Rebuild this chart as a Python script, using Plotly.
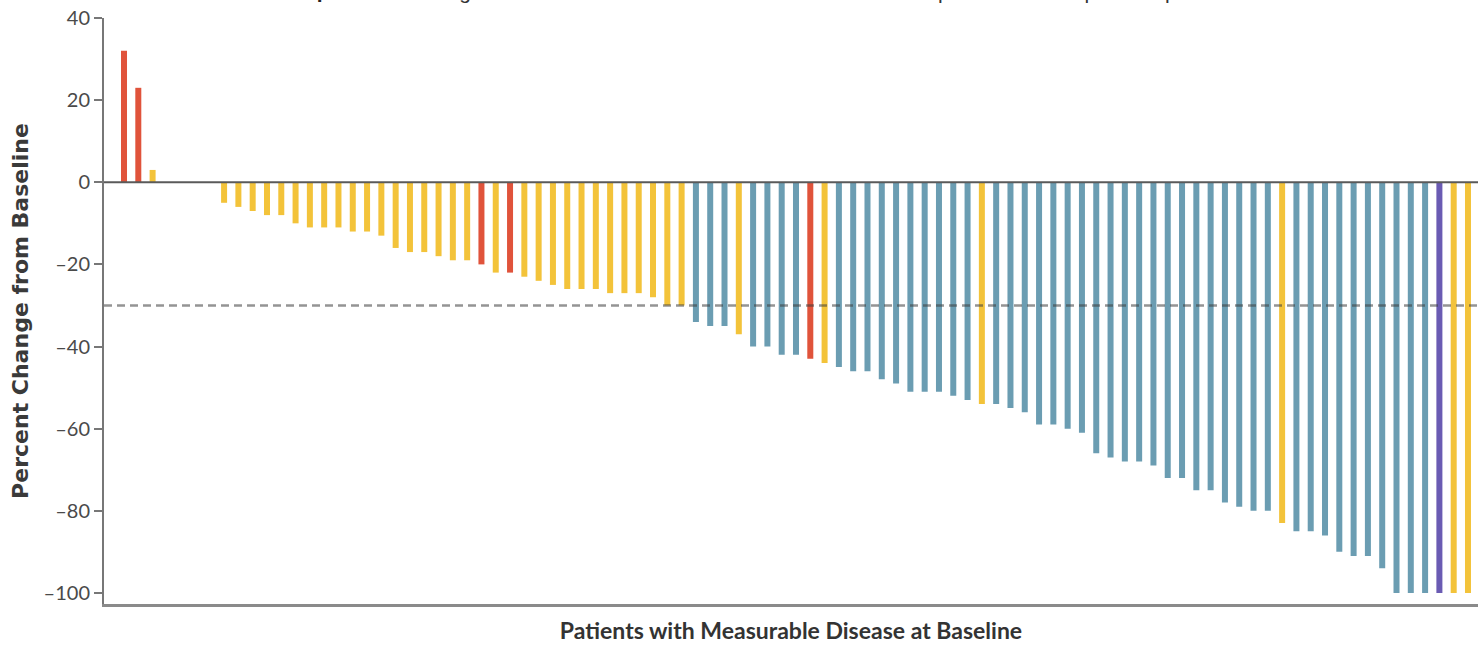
import plotly.graph_objects as go

# Best percent change from baseline in target lesions, one value per patient (sorted)
change_from_baseline = [
    32, 23, 3, 0, 0, 0, 0, -5, -6, -7,
    -8, -8, -10, -11, -11, -11, -12, -12, -13, -16,
    -17, -17, -18, -19, -19, -20, -22, -22, -23, -24,
    -25, -26, -26, -26, -27, -27, -27, -28, -30, -30,
    -34, -35, -35, -37, -40, -40, -42, -42, -43, -44,
    -45, -46, -46, -48, -49, -51, -51, -51, -52, -53,
    -54, -54, -55, -56, -59, -59, -60, -61, -66, -67,
    -68, -68, -69, -72, -72, -75, -75, -78, -79, -80,
    -80, -83, -85, -85, -86, -90, -91, -91, -94, -100,
    -100, -100, -100, -100, -100,
]

# Best overall response per patient, same order as above
best_response = [
    "PD", "PD", "SD", "SD", "SD", "SD", "SD", "SD", "SD", "SD",
    "SD", "SD", "SD", "SD", "SD", "SD", "SD", "SD", "SD", "SD",
    "SD", "SD", "SD", "SD", "SD", "PD", "SD", "PD", "SD", "SD",
    "SD", "SD", "SD", "SD", "SD", "SD", "SD", "SD", "SD", "SD",
    "PR", "PR", "PR", "SD", "PR", "PR", "PR", "PR", "PD", "SD",
    "PR", "PR", "PR", "PR", "PR", "PR", "PR", "PR", "PR", "PR",
    "SD", "PR", "PR", "PR", "PR", "PR", "PR", "PR", "PR", "PR",
    "PR", "PR", "PR", "PR", "PR", "PR", "PR", "PR", "PR", "PR",
    "PR", "SD", "PR", "PR", "PR", "PR", "PR", "PR", "PR", "PR",
    "PR", "PR", "CR", "SD", "SD",
]

response_codes = ["PD", "SD", "PR", "CR"]
response_labels = ["Progressive disease", "Stable disease", "Partial response", "Complete response"]
response_colors = ["#E0533B", "#F3C33A", "#6B9DB2", "#6A5BB3"]

y_tick_values = [40, 20, 0, -20, -40, -60, -80, -100]
y_tick_labels = ["40", "20", "0", "–20", "–40", "–60", "–80", "–100"]

response_threshold = -30  # partial-response cutoff

patients = list(range(1, len(change_from_baseline) + 1))

fig = go.Figure()
for code, label, color in zip(response_codes, response_labels, response_colors):
    xs = [p for p, r in zip(patients, best_response) if r == code]
    ys = [v for v, r in zip(change_from_baseline, best_response) if r == code]
    fig.add_trace(go.Bar(
        x=xs, y=ys, name=label,
        marker=dict(color=color, line=dict(width=0)),
        width=0.42,
        hovertemplate="Patient %{x}<br>%{y}%<extra>" + label + "</extra>",
    ))

# zero reference line and dashed -30% threshold, drawn over the bars
fig.add_shape(type="line", xref="paper", x0=0, x1=1, yref="y", y0=0, y1=0,
              line=dict(color="#5a5a5a", width=2), layer="above")
fig.add_shape(type="line", xref="paper", x0=0, x1=1, yref="y",
              y0=response_threshold, y1=response_threshold,
              line=dict(color="rgba(60,60,60,0.55)", width=2.5, dash="8px,5px"),
              layer="above")

fig.update_layout(
    width=1478, height=648,
    margin=dict(l=104, r=0, t=18, b=44, autoexpand=False),
    paper_bgcolor="white", plot_bgcolor="white",
    barmode="overlay",
    showlegend=True,
    legend=dict(
        orientation="h",
        xref="paper", yref="paper",
        x=0.088, xanchor="left",
        y=1.045, yanchor="middle",
        title=dict(text="<b>Best Response</b>", side="left",
                   font=dict(family="Liberation Sans, Arial, sans-serif", size=21, color="#222")),
        font=dict(family="Liberation Sans, Arial, sans-serif", size=21, color="#333"),
        bgcolor="rgba(0,0,0,0)",
        traceorder="normal",
    ),
    xaxis=dict(
        range=[-0.399, 95.70],
        showticklabels=False, ticks="",
        showgrid=False, zeroline=False,
        showline=True, linecolor="#8a8a8a", linewidth=3,
        title=dict(text="<b>Patients with Measurable Disease at Baseline</b>",
                   font=dict(family="Lato, sans-serif", size=23, color="#333"),
                   standoff=17),
    ),
    yaxis=dict(
        range=[-102.7, 40],
        tickvals=y_tick_values, ticktext=y_tick_labels,
        ticks="outside", ticklen=8, tickwidth=2, tickcolor="#777",
        tickfont=dict(family="Lato, sans-serif", size=20, color="#4a4a4a"),
        showgrid=False, zeroline=False,
        showline=True, linecolor="#777", linewidth=2,
        title=dict(text="<b>Percent Change from Baseline</b>",
                   font=dict(family="DejaVu Sans, sans-serif", size=22, color="#3a3a3a"),
                   standoff=9),
    ),
)

fig.write_html("out.html")
